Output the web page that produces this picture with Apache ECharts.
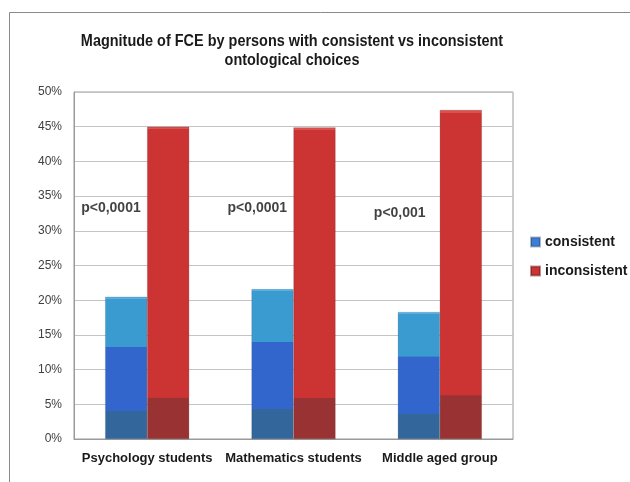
<!DOCTYPE html>
<html>
<head>
<meta charset="utf-8">
<script src="https://cdn.jsdelivr.net/npm/echarts@6/dist/echarts.min.js"></script>
<style>
  html, body { margin: 0; padding: 0; background: #fff; }
  #chart { width: 630px; height: 482px; }
</style>
</head>
<body>
<div id="chart"></div>
<script>
(function (echarts) {
    'use strict';

    const categories = ['Psychology students', 'Mathematics students', 'Middle aged group'];
    const consistent = [20.5, 21.6, 18.3];
    const inconsistent = [45.0, 44.9, 47.4];
    const pLabels = ['p<0,0001', 'p<0,0001', 'p<0,001'];
    const pLabelY = [33.2, 33.3, 32.5];
    const yTicks = { min: 0, max: 50, interval: 5 };
    const titleText = 'Magnitude of FCE by persons with consistent vs inconsistent\nontological choices';

    // banded fill like the old office 3d look: light top, mid, dark foot
    function blueFill() {
        return new echarts.graphic.LinearGradient(0, 0, 0, 1, [
            {offset: 0, color: '#5aafe0'},
            {offset: 0.015, color: '#5aafe0'},
            {offset: 0.016, color: '#3a9bd0'},
            {offset: 0.35, color: '#3a9bd0'},
            {offset: 0.351, color: '#3366cc'},
            {offset: 0.8, color: '#3366cc'},
            {offset: 0.801, color: '#33669a'},
            {offset: 1, color: '#33669a'}
        ]);
    }
    function redFill() {
        return new echarts.graphic.LinearGradient(0, 0, 0, 1, [
            {offset: 0, color: '#dd5050'},
            {offset: 0.008, color: '#dd5050'},
            {offset: 0.009, color: '#cc3333'},
            {offset: 0.867, color: '#cc3333'},
            {offset: 0.868, color: '#993333'},
            {offset: 1, color: '#993333'}
        ]);
    }

    const sansBold = {
        fontFamily: '"Liberation Sans", Arial, sans-serif',
        fontWeight: 'bold'
    };

    const chart = echarts.init(document.getElementById('chart'), null, {renderer: 'canvas'});

    const options = {
        animation: false,
        backgroundColor: '#fff',
        legend: {
            orient: 'vertical',
            left: 530,
            top: 235,
            padding: 0,
            itemWidth: 9,
            itemHeight: 9,
            itemGap: 15,
            icon: 'rect',
            data: [
                {name: 'consistent', itemStyle: {color: '#3a7fd4'}},
                {name: 'inconsistent', itemStyle: {color: '#cc3333'}}
            ],
            textStyle: Object.assign({fontSize: 14, color: '#1a1a1a'}, sansBold)
        },
        grid: {
            left: 74,
            right: 117,
            top: 92,
            bottom: 43,
            show: true,
            borderColor: '#9a9a9a',
            borderWidth: 1
        },
        xAxis: {
            type: 'category',
            data: categories,
            axisLine: {lineStyle: {color: '#9a9a9a'}},
            axisTick: {show: false},
            axisLabel: Object.assign({interval: 0, fontSize: 13, color: '#1a1a1a', margin: 13}, sansBold)
        },
        yAxis: {
            type: 'value',
            min: yTicks.min,
            max: yTicks.max,
            interval: yTicks.interval,
            axisLine: {show: true, lineStyle: {color: '#9a9a9a'}},
            axisTick: {show: false},
            splitLine: {lineStyle: {color: '#c4c4c4'}},
            axisLabel: {
                formatter: '{value}%',
                fontFamily: '"Liberation Sans", Arial, sans-serif',
                fontSize: 12,
                color: '#404040',
                margin: 12
            }
        },
        series: [
            {
                name: 'consistent',
                type: 'bar',
                data: consistent,
                barWidth: 42,
                barGap: '0%',
                itemStyle: {color: blueFill(), borderColor: 'rgba(30,50,90,0.35)', borderWidth: 0.5}
            },
            {
                name: 'inconsistent',
                type: 'bar',
                data: inconsistent,
                barWidth: 42,
                barGap: '0%',
                itemStyle: {color: redFill(), borderColor: 'rgba(90,20,20,0.45)', borderWidth: 0.5}
            },
            {
                name: 'p',
                type: 'scatter',
                symbolSize: 0,
                silent: true,
                data: categories.map((c, i) => [c, pLabelY[i]]),
                label: {
                    show: true,
                    position: 'inside',
                    align: 'left',
                    offset: [-66, 0],
                    formatter: (p) => pLabels[p.dataIndex],
                    fontFamily: '"Liberation Sans", Arial, sans-serif',
                    fontWeight: 'bold',
                    fontSize: 14,
                    color: '#111'
                }
            }
        ],
        graphic: [
            {
                type: 'rect',
                silent: true,
                shape: {x: 9.5, y: 12.5, width: 700, height: 600},
                style: {fill: null, stroke: '#8a8a8a', lineWidth: 1}
            },
            {
                // title drawn condensed, the original uses a narrow face
                type: 'text',
                silent: true,
                x: 292,
                y: 32,
                scaleX: 0.85,
                style: {
                    text: titleText,
                    align: 'center',
                    verticalAlign: 'top',
                    font: 'bold 17px "Liberation Sans", Arial, sans-serif',
                    lineHeight: 19,
                    fill: '#1a1a1a'
                }
            }
        ]
    };

    chart.setOption(options);

})(echarts);
</script>
</body>
</html>
